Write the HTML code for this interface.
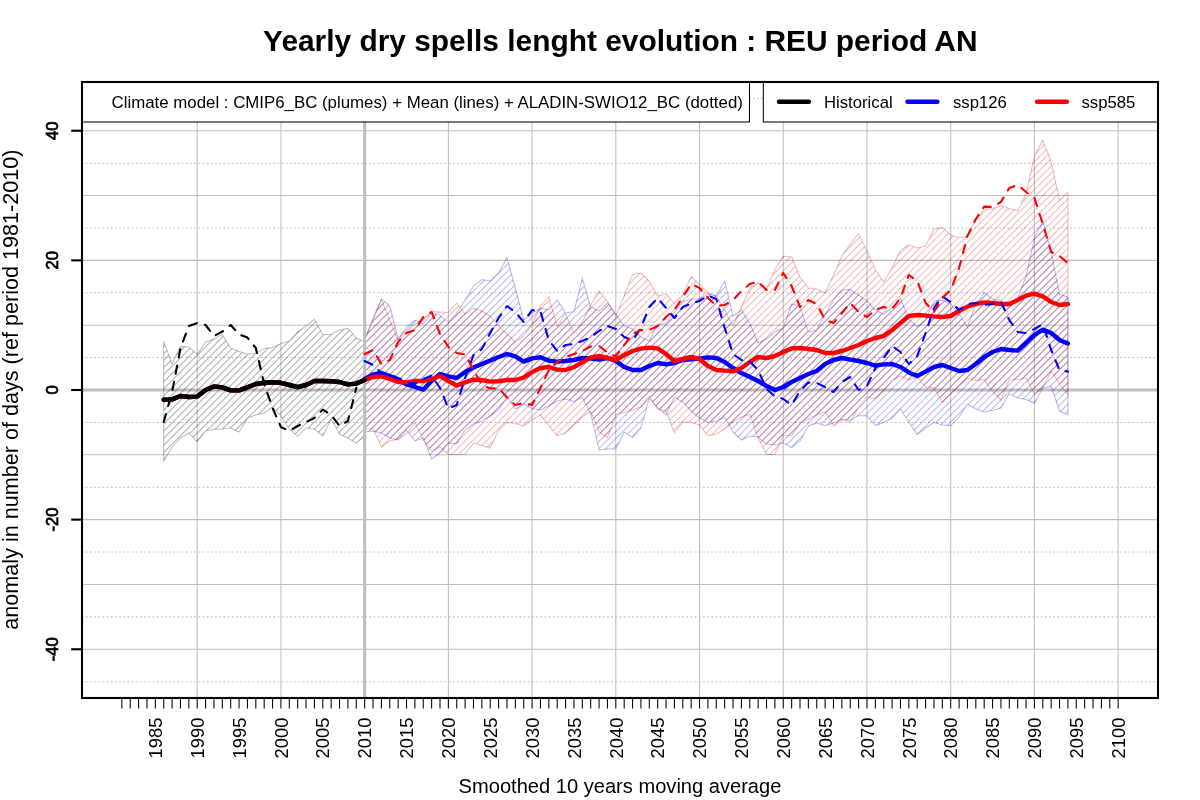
<!DOCTYPE html>
<html><head><meta charset="utf-8"><title>Yearly dry spells lenght evolution</title>
<style>html,body{margin:0;padding:0;background:#fff}svg{display:block}text{font-family:"Liberation Sans",Arial,sans-serif;fill:#000}</style></head><body>
<svg width="1200" height="800" viewBox="0 0 1200 800">
<rect width="1200" height="800" fill="#fff"/>
<defs><clipPath id="box"><rect x="82.0" y="82.0" width="1076.0" height="616.0"/></clipPath>
<clipPath id="cg"><polygon points="163.7,341.6 172.1,364.0 180.5,346.4 188.8,347.0 197.2,354.4 205.6,342.0 213.9,339.0 222.3,334.4 230.7,348.0 239.1,351.6 247.4,354.0 255.8,353.6 264.2,348.4 272.6,347.6 280.9,343.6 289.3,341.0 297.7,332.0 306.0,326.0 314.4,319.4 322.8,334.4 331.2,334.4 339.5,330.0 347.9,328.4 356.3,338.0 364.6,342.0 364.6,436.0 356.3,443.0 347.9,438.0 339.5,434.0 331.2,419.0 322.8,436.0 314.4,429.0 306.0,428.0 297.7,436.4 289.3,429.0 280.9,416.0 272.6,407.0 264.2,413.0 255.8,415.0 247.4,418.0 239.1,432.0 230.7,428.0 222.3,429.0 213.9,429.6 205.6,431.0 197.2,441.6 188.8,433.0 180.5,438.0 172.1,447.0 163.7,461.0"/></clipPath>
<clipPath id="cb"><polygon points="364.6,340.0 373.0,320.0 381.4,299.0 389.8,305.6 398.1,339.0 406.5,327.0 414.9,320.0 423.3,324.0 431.6,313.0 440.0,315.6 448.4,322.4 456.7,313.0 465.1,300.0 473.5,286.0 481.9,279.6 490.2,281.0 498.6,273.0 507.0,257.6 515.3,288.0 523.7,320.0 532.1,313.0 540.5,308.0 548.8,310.0 557.2,300.0 565.6,313.0 574.0,311.6 582.3,278.4 590.7,307.0 599.1,311.0 607.4,303.0 615.8,314.0 624.2,326.0 632.6,329.0 640.9,337.0 649.3,341.0 657.7,324.0 666.0,324.0 674.4,312.0 682.8,302.0 691.2,299.0 699.5,299.0 707.9,294.0 716.3,296.0 724.7,281.0 733.0,316.0 741.4,310.0 749.8,323.0 758.1,343.0 766.5,339.0 774.9,332.0 783.3,328.0 791.6,304.0 800.0,306.0 808.4,332.0 816.7,330.0 825.1,314.0 833.5,300.0 841.9,290.0 850.2,289.6 858.6,295.0 867.0,301.0 875.4,310.0 883.7,314.0 892.1,308.0 900.5,298.0 908.8,319.0 917.2,327.0 925.6,320.0 934.0,301.0 942.3,300.0 950.7,304.0 959.1,314.0 967.4,327.0 975.8,304.0 984.2,292.4 992.6,299.0 1000.9,301.0 1009.3,308.0 1017.7,298.0 1026.1,276.0 1034.4,238.0 1042.8,221.0 1051.2,252.0 1059.5,294.0 1067.9,297.0 1067.9,415.0 1059.5,411.0 1051.2,386.4 1042.8,388.0 1034.4,403.0 1026.1,399.6 1017.7,398.0 1009.3,393.6 1000.9,408.0 992.6,410.4 984.2,412.0 975.8,409.0 967.4,404.0 959.1,417.0 950.7,425.6 942.3,425.0 934.0,422.4 925.6,428.0 917.2,434.4 908.8,422.0 900.5,409.0 892.1,418.0 883.7,422.4 875.4,425.6 867.0,416.0 858.6,415.6 850.2,420.0 841.9,419.0 833.5,423.0 825.1,425.6 816.7,423.0 808.4,426.0 800.0,441.0 791.6,447.6 783.3,443.0 774.9,445.0 766.5,444.0 758.1,437.0 749.8,436.0 741.4,440.0 733.0,432.0 724.7,417.6 716.3,421.0 707.9,422.4 699.5,418.0 691.2,411.0 682.8,402.0 674.4,397.4 666.0,415.0 657.7,408.0 649.3,398.0 640.9,428.0 632.6,437.6 624.2,432.0 615.8,449.0 607.4,449.0 599.1,450.0 590.7,414.0 582.3,397.0 574.0,401.6 565.6,399.0 557.2,401.0 548.8,406.0 540.5,410.0 532.1,408.4 523.7,404.0 515.3,409.0 507.0,397.0 498.6,410.0 490.2,416.0 481.9,421.0 473.5,424.0 465.1,430.0 456.7,443.6 448.4,443.0 440.0,453.0 431.6,459.0 423.3,438.0 414.9,441.0 406.5,430.0 398.1,440.0 389.8,438.0 381.4,433.0 373.0,431.0 364.6,432.0"/></clipPath>
<clipPath id="cr"><polygon points="364.6,340.0 373.0,318.0 381.4,299.6 389.8,320.0 398.1,340.0 406.5,332.0 414.9,324.0 423.3,319.0 431.6,311.6 440.0,312.0 448.4,312.4 456.7,303.0 465.1,314.0 473.5,308.4 481.9,311.0 490.2,316.0 498.6,326.0 507.0,334.0 515.3,342.0 523.7,336.0 532.1,324.0 540.5,306.0 548.8,297.0 557.2,326.0 565.6,314.0 574.0,333.0 582.3,322.0 590.7,305.0 599.1,291.0 607.4,301.0 615.8,316.0 624.2,296.0 632.6,274.4 640.9,273.0 649.3,281.0 657.7,296.0 666.0,294.0 674.4,303.0 682.8,295.0 691.2,276.4 699.5,284.0 707.9,293.0 716.3,296.0 724.7,310.0 733.0,326.0 741.4,307.0 749.8,288.0 758.1,283.0 766.5,289.0 774.9,270.0 783.3,256.0 791.6,257.0 800.0,277.0 808.4,288.0 816.7,289.0 825.1,293.0 833.5,275.0 841.9,256.0 850.2,244.0 858.6,233.6 867.0,251.0 875.4,270.0 883.7,282.0 892.1,268.0 900.5,250.0 908.8,245.0 917.2,248.0 925.6,246.0 934.0,229.0 942.3,227.6 950.7,235.0 959.1,238.0 967.4,236.0 975.8,220.0 984.2,209.0 992.6,209.0 1000.9,205.6 1009.3,208.4 1017.7,211.0 1026.1,194.0 1034.4,156.0 1042.8,140.0 1051.2,162.0 1059.5,200.0 1067.9,192.4 1067.9,395.0 1059.5,384.0 1051.2,371.0 1042.8,388.0 1034.4,394.0 1026.1,378.0 1017.7,379.6 1009.3,380.0 1000.9,400.0 992.6,392.0 984.2,379.6 975.8,380.4 967.4,378.0 959.1,386.0 950.7,394.0 942.3,402.4 934.0,388.0 925.6,387.0 917.2,377.0 908.8,380.0 900.5,376.0 892.1,380.0 883.7,391.0 875.4,399.0 867.0,397.0 858.6,407.0 850.2,422.0 841.9,420.0 833.5,426.0 825.1,411.6 816.7,415.0 808.4,419.0 800.0,423.0 791.6,436.0 783.3,435.0 774.9,454.4 766.5,454.4 758.1,438.0 749.8,414.4 741.4,417.0 733.0,422.0 724.7,429.0 716.3,434.0 707.9,436.0 699.5,425.0 691.2,422.4 682.8,422.0 674.4,433.0 666.0,411.0 657.7,409.0 649.3,395.6 640.9,407.0 632.6,410.0 624.2,412.4 615.8,414.4 607.4,438.0 599.1,432.0 590.7,411.0 582.3,417.0 574.0,425.0 565.6,433.0 557.2,435.6 548.8,425.6 540.5,415.0 532.1,420.0 523.7,426.0 515.3,423.6 507.0,422.4 498.6,430.0 490.2,448.0 481.9,445.6 473.5,443.0 465.1,454.0 456.7,454.4 448.4,454.4 440.0,447.0 431.6,451.0 423.3,440.0 414.9,422.4 406.5,434.0 398.1,439.0 389.8,441.0 381.4,447.0 373.0,429.0 364.6,429.0"/></clipPath></defs>
<g clip-path="url(#box)">
<g stroke="#bebebe" stroke-width="1.05" fill="none">
<line x1="82.0" x2="1158.0" y1="649.26" y2="649.26"/>
<line x1="82.0" x2="1158.0" y1="584.44" y2="584.44"/>
<line x1="82.0" x2="1158.0" y1="519.63" y2="519.63"/>
<line x1="82.0" x2="1158.0" y1="454.81" y2="454.81"/>
<line x1="82.0" x2="1158.0" y1="325.19" y2="325.19"/>
<line x1="82.0" x2="1158.0" y1="260.37" y2="260.37"/>
<line x1="82.0" x2="1158.0" y1="195.56" y2="195.56"/>
<line x1="82.0" x2="1158.0" y1="130.74" y2="130.74"/>
<line x1="197.20" x2="197.20" y1="82.0" y2="698.0"/>
<line x1="280.92" x2="280.92" y1="82.0" y2="698.0"/>
<line x1="448.37" x2="448.37" y1="82.0" y2="698.0"/>
<line x1="532.09" x2="532.09" y1="82.0" y2="698.0"/>
<line x1="615.81" x2="615.81" y1="82.0" y2="698.0"/>
<line x1="699.54" x2="699.54" y1="82.0" y2="698.0"/>
<line x1="783.26" x2="783.26" y1="82.0" y2="698.0"/>
<line x1="866.98" x2="866.98" y1="82.0" y2="698.0"/>
<line x1="950.70" x2="950.70" y1="82.0" y2="698.0"/>
<line x1="1034.43" x2="1034.43" y1="82.0" y2="698.0"/>
<line x1="1118.15" x2="1118.15" y1="82.0" y2="698.0"/>
</g>
<g stroke="#bebebe" stroke-width="1.05" stroke-dasharray="1.04 3.13" stroke-linecap="round" fill="none">
<line x1="82.0" x2="1158.0" y1="681.67" y2="681.67"/>
<line x1="82.0" x2="1158.0" y1="616.85" y2="616.85"/>
<line x1="82.0" x2="1158.0" y1="552.04" y2="552.04"/>
<line x1="82.0" x2="1158.0" y1="487.22" y2="487.22"/>
<line x1="82.0" x2="1158.0" y1="422.41" y2="422.41"/>
<line x1="82.0" x2="1158.0" y1="357.59" y2="357.59"/>
<line x1="82.0" x2="1158.0" y1="292.78" y2="292.78"/>
<line x1="82.0" x2="1158.0" y1="227.96" y2="227.96"/>
<line x1="82.0" x2="1158.0" y1="163.15" y2="163.15"/>
<line x1="82.0" x2="1158.0" y1="98.33" y2="98.33"/>
</g>
<line x1="82.0" x2="1158.0" y1="390.00" y2="390.00" stroke="#bebebe" stroke-width="3.1"/>
<g fill="none" stroke-width="1.05">
<path d="M-203.27,480L156.73,120M-196.20,480L163.80,120M-189.13,480L170.87,120M-182.06,480L177.94,120M-174.99,480L185.01,120M-167.92,480L192.08,120M-160.85,480L199.15,120M-153.78,480L206.22,120M-146.70,480L213.30,120M-139.63,480L220.37,120M-132.56,480L227.44,120M-125.49,480L234.51,120M-118.42,480L241.58,120M-111.35,480L248.65,120M-104.28,480L255.72,120M-97.21,480L262.79,120M-90.14,480L269.86,120M-83.06,480L276.94,120M-75.99,480L284.01,120M-68.92,480L291.08,120M-61.85,480L298.15,120M-54.78,480L305.22,120M-47.71,480L312.29,120M-40.64,480L319.36,120M-33.57,480L326.43,120M-26.50,480L333.50,120M-19.43,480L340.57,120M-12.35,480L347.65,120M-5.28,480L354.72,120M1.79,480L361.79,120M8.86,480L368.86,120M15.93,480L375.93,120M23.00,480L383.00,120M30.07,480L390.07,120M37.14,480L397.14,120M44.21,480L404.21,120M51.29,480L411.29,120M58.36,480L418.36,120M65.43,480L425.43,120M72.50,480L432.50,120M79.57,480L439.57,120M86.64,480L446.64,120M93.71,480L453.71,120M100.78,480L460.78,120M107.85,480L467.85,120M114.92,480L474.92,120M122.00,480L482.00,120M129.07,480L489.07,120M136.14,480L496.14,120M143.21,480L503.21,120M150.28,480L510.28,120M157.35,480L517.35,120M164.42,480L524.42,120M171.49,480L531.49,120M178.56,480L538.56,120M185.64,480L545.64,120M192.71,480L552.71,120M199.78,480L559.78,120M206.85,480L566.85,120M213.92,480L573.92,120M220.99,480L580.99,120M228.06,480L588.06,120M235.13,480L595.13,120M242.20,480L602.20,120M249.28,480L609.28,120M256.35,480L616.35,120M263.42,480L623.42,120M270.49,480L630.49,120M277.56,480L637.56,120M284.63,480L644.63,120M291.70,480L651.70,120M298.77,480L658.77,120M305.84,480L665.84,120M312.91,480L672.91,120M319.99,480L679.99,120M327.06,480L687.06,120M334.13,480L694.13,120M341.20,480L701.20,120M348.27,480L708.27,120M355.34,480L715.34,120M362.41,480L722.41,120M369.48,480L729.48,120M376.55,480L736.55,120M383.63,480L743.63,120M390.70,480L750.70,120M397.77,480L757.77,120M404.84,480L764.84,120M411.91,480L771.91,120M418.98,480L778.98,120M426.05,480L786.05,120M433.12,480L793.12,120M440.19,480L800.19,120M447.27,480L807.27,120M454.34,480L814.34,120M461.41,480L821.41,120M468.48,480L828.48,120M475.55,480L835.55,120M482.62,480L842.62,120M489.69,480L849.69,120M496.76,480L856.76,120M503.83,480L863.83,120M510.90,480L870.90,120M517.98,480L877.98,120M525.05,480L885.05,120M532.12,480L892.12,120M539.19,480L899.19,120M546.26,480L906.26,120M553.33,480L913.33,120M560.40,480L920.40,120M567.47,480L927.47,120M574.54,480L934.54,120M581.62,480L941.62,120M588.69,480L948.69,120M595.76,480L955.76,120M602.83,480L962.83,120M609.90,480L969.90,120M616.97,480L976.97,120M624.04,480L984.04,120M631.11,480L991.11,120M638.18,480L998.18,120M645.26,480L1005.26,120M652.33,480L1012.33,120M659.40,480L1019.40,120M666.47,480L1026.47,120M673.54,480L1033.54,120M680.61,480L1040.61,120M687.68,480L1047.68,120M694.75,480L1054.75,120M701.82,480L1061.82,120M708.89,480L1068.89,120M715.97,480L1075.97,120M723.04,480L1083.04,120M730.11,480L1090.11,120M737.18,480L1097.18,120M744.25,480L1104.25,120M751.32,480L1111.32,120M758.39,480L1118.39,120M765.46,480L1125.46,120M772.53,480L1132.53,120M779.61,480L1139.61,120M786.68,480L1146.68,120M793.75,480L1153.75,120M800.82,480L1160.82,120M807.89,480L1167.89,120M814.96,480L1174.96,120M822.03,480L1182.03,120M829.10,480L1189.10,120M836.17,480L1196.17,120M843.24,480L1203.24,120M850.32,480L1210.32,120M857.39,480L1217.39,120M864.46,480L1224.46,120M871.53,480L1231.53,120M878.60,480L1238.60,120M885.67,480L1245.67,120M892.74,480L1252.74,120M899.81,480L1259.81,120M906.88,480L1266.88,120M913.96,480L1273.96,120M921.03,480L1281.03,120M928.10,480L1288.10,120M935.17,480L1295.17,120M942.24,480L1302.24,120M949.31,480L1309.31,120M956.38,480L1316.38,120M963.45,480L1323.45,120M970.52,480L1330.52,120M977.60,480L1337.60,120M984.67,480L1344.67,120M991.74,480L1351.74,120M998.81,480L1358.81,120M1005.88,480L1365.88,120M1012.95,480L1372.95,120M1020.02,480L1380.02,120M1027.09,480L1387.09,120M1034.16,480L1394.16,120M1041.23,480L1401.23,120M1048.31,480L1408.31,120M1055.38,480L1415.38,120M1062.45,480L1422.45,120M1069.52,480L1429.52,120M1076.59,480L1436.59,120" stroke="#000" stroke-opacity="0.31" clip-path="url(#cg)"/>
<polygon points="163.7,341.6 172.1,364.0 180.5,346.4 188.8,347.0 197.2,354.4 205.6,342.0 213.9,339.0 222.3,334.4 230.7,348.0 239.1,351.6 247.4,354.0 255.8,353.6 264.2,348.4 272.6,347.6 280.9,343.6 289.3,341.0 297.7,332.0 306.0,326.0 314.4,319.4 322.8,334.4 331.2,334.4 339.5,330.0 347.9,328.4 356.3,338.0 364.6,342.0 364.6,436.0 356.3,443.0 347.9,438.0 339.5,434.0 331.2,419.0 322.8,436.0 314.4,429.0 306.0,428.0 297.7,436.4 289.3,429.0 280.9,416.0 272.6,407.0 264.2,413.0 255.8,415.0 247.4,418.0 239.1,432.0 230.7,428.0 222.3,429.0 213.9,429.6 205.6,431.0 197.2,441.6 188.8,433.0 180.5,438.0 172.1,447.0 163.7,461.0" stroke="#000" stroke-opacity="0.25"/>
<path d="M-203.27,480L156.73,120M-196.20,480L163.80,120M-189.13,480L170.87,120M-182.06,480L177.94,120M-174.99,480L185.01,120M-167.92,480L192.08,120M-160.85,480L199.15,120M-153.78,480L206.22,120M-146.70,480L213.30,120M-139.63,480L220.37,120M-132.56,480L227.44,120M-125.49,480L234.51,120M-118.42,480L241.58,120M-111.35,480L248.65,120M-104.28,480L255.72,120M-97.21,480L262.79,120M-90.14,480L269.86,120M-83.06,480L276.94,120M-75.99,480L284.01,120M-68.92,480L291.08,120M-61.85,480L298.15,120M-54.78,480L305.22,120M-47.71,480L312.29,120M-40.64,480L319.36,120M-33.57,480L326.43,120M-26.50,480L333.50,120M-19.43,480L340.57,120M-12.35,480L347.65,120M-5.28,480L354.72,120M1.79,480L361.79,120M8.86,480L368.86,120M15.93,480L375.93,120M23.00,480L383.00,120M30.07,480L390.07,120M37.14,480L397.14,120M44.21,480L404.21,120M51.29,480L411.29,120M58.36,480L418.36,120M65.43,480L425.43,120M72.50,480L432.50,120M79.57,480L439.57,120M86.64,480L446.64,120M93.71,480L453.71,120M100.78,480L460.78,120M107.85,480L467.85,120M114.92,480L474.92,120M122.00,480L482.00,120M129.07,480L489.07,120M136.14,480L496.14,120M143.21,480L503.21,120M150.28,480L510.28,120M157.35,480L517.35,120M164.42,480L524.42,120M171.49,480L531.49,120M178.56,480L538.56,120M185.64,480L545.64,120M192.71,480L552.71,120M199.78,480L559.78,120M206.85,480L566.85,120M213.92,480L573.92,120M220.99,480L580.99,120M228.06,480L588.06,120M235.13,480L595.13,120M242.20,480L602.20,120M249.28,480L609.28,120M256.35,480L616.35,120M263.42,480L623.42,120M270.49,480L630.49,120M277.56,480L637.56,120M284.63,480L644.63,120M291.70,480L651.70,120M298.77,480L658.77,120M305.84,480L665.84,120M312.91,480L672.91,120M319.99,480L679.99,120M327.06,480L687.06,120M334.13,480L694.13,120M341.20,480L701.20,120M348.27,480L708.27,120M355.34,480L715.34,120M362.41,480L722.41,120M369.48,480L729.48,120M376.55,480L736.55,120M383.63,480L743.63,120M390.70,480L750.70,120M397.77,480L757.77,120M404.84,480L764.84,120M411.91,480L771.91,120M418.98,480L778.98,120M426.05,480L786.05,120M433.12,480L793.12,120M440.19,480L800.19,120M447.27,480L807.27,120M454.34,480L814.34,120M461.41,480L821.41,120M468.48,480L828.48,120M475.55,480L835.55,120M482.62,480L842.62,120M489.69,480L849.69,120M496.76,480L856.76,120M503.83,480L863.83,120M510.90,480L870.90,120M517.98,480L877.98,120M525.05,480L885.05,120M532.12,480L892.12,120M539.19,480L899.19,120M546.26,480L906.26,120M553.33,480L913.33,120M560.40,480L920.40,120M567.47,480L927.47,120M574.54,480L934.54,120M581.62,480L941.62,120M588.69,480L948.69,120M595.76,480L955.76,120M602.83,480L962.83,120M609.90,480L969.90,120M616.97,480L976.97,120M624.04,480L984.04,120M631.11,480L991.11,120M638.18,480L998.18,120M645.26,480L1005.26,120M652.33,480L1012.33,120M659.40,480L1019.40,120M666.47,480L1026.47,120M673.54,480L1033.54,120M680.61,480L1040.61,120M687.68,480L1047.68,120M694.75,480L1054.75,120M701.82,480L1061.82,120M708.89,480L1068.89,120M715.97,480L1075.97,120M723.04,480L1083.04,120M730.11,480L1090.11,120M737.18,480L1097.18,120M744.25,480L1104.25,120M751.32,480L1111.32,120M758.39,480L1118.39,120M765.46,480L1125.46,120M772.53,480L1132.53,120M779.61,480L1139.61,120M786.68,480L1146.68,120M793.75,480L1153.75,120M800.82,480L1160.82,120M807.89,480L1167.89,120M814.96,480L1174.96,120M822.03,480L1182.03,120M829.10,480L1189.10,120M836.17,480L1196.17,120M843.24,480L1203.24,120M850.32,480L1210.32,120M857.39,480L1217.39,120M864.46,480L1224.46,120M871.53,480L1231.53,120M878.60,480L1238.60,120M885.67,480L1245.67,120M892.74,480L1252.74,120M899.81,480L1259.81,120M906.88,480L1266.88,120M913.96,480L1273.96,120M921.03,480L1281.03,120M928.10,480L1288.10,120M935.17,480L1295.17,120M942.24,480L1302.24,120M949.31,480L1309.31,120M956.38,480L1316.38,120M963.45,480L1323.45,120M970.52,480L1330.52,120M977.60,480L1337.60,120M984.67,480L1344.67,120M991.74,480L1351.74,120M998.81,480L1358.81,120M1005.88,480L1365.88,120M1012.95,480L1372.95,120M1020.02,480L1380.02,120M1027.09,480L1387.09,120M1034.16,480L1394.16,120M1041.23,480L1401.23,120M1048.31,480L1408.31,120M1055.38,480L1415.38,120M1062.45,480L1422.45,120M1069.52,480L1429.52,120M1076.59,480L1436.59,120" stroke="#0000cd" stroke-opacity="0.28" clip-path="url(#cb)"/>
<polygon points="364.6,340.0 373.0,320.0 381.4,299.0 389.8,305.6 398.1,339.0 406.5,327.0 414.9,320.0 423.3,324.0 431.6,313.0 440.0,315.6 448.4,322.4 456.7,313.0 465.1,300.0 473.5,286.0 481.9,279.6 490.2,281.0 498.6,273.0 507.0,257.6 515.3,288.0 523.7,320.0 532.1,313.0 540.5,308.0 548.8,310.0 557.2,300.0 565.6,313.0 574.0,311.6 582.3,278.4 590.7,307.0 599.1,311.0 607.4,303.0 615.8,314.0 624.2,326.0 632.6,329.0 640.9,337.0 649.3,341.0 657.7,324.0 666.0,324.0 674.4,312.0 682.8,302.0 691.2,299.0 699.5,299.0 707.9,294.0 716.3,296.0 724.7,281.0 733.0,316.0 741.4,310.0 749.8,323.0 758.1,343.0 766.5,339.0 774.9,332.0 783.3,328.0 791.6,304.0 800.0,306.0 808.4,332.0 816.7,330.0 825.1,314.0 833.5,300.0 841.9,290.0 850.2,289.6 858.6,295.0 867.0,301.0 875.4,310.0 883.7,314.0 892.1,308.0 900.5,298.0 908.8,319.0 917.2,327.0 925.6,320.0 934.0,301.0 942.3,300.0 950.7,304.0 959.1,314.0 967.4,327.0 975.8,304.0 984.2,292.4 992.6,299.0 1000.9,301.0 1009.3,308.0 1017.7,298.0 1026.1,276.0 1034.4,238.0 1042.8,221.0 1051.2,252.0 1059.5,294.0 1067.9,297.0 1067.9,415.0 1059.5,411.0 1051.2,386.4 1042.8,388.0 1034.4,403.0 1026.1,399.6 1017.7,398.0 1009.3,393.6 1000.9,408.0 992.6,410.4 984.2,412.0 975.8,409.0 967.4,404.0 959.1,417.0 950.7,425.6 942.3,425.0 934.0,422.4 925.6,428.0 917.2,434.4 908.8,422.0 900.5,409.0 892.1,418.0 883.7,422.4 875.4,425.6 867.0,416.0 858.6,415.6 850.2,420.0 841.9,419.0 833.5,423.0 825.1,425.6 816.7,423.0 808.4,426.0 800.0,441.0 791.6,447.6 783.3,443.0 774.9,445.0 766.5,444.0 758.1,437.0 749.8,436.0 741.4,440.0 733.0,432.0 724.7,417.6 716.3,421.0 707.9,422.4 699.5,418.0 691.2,411.0 682.8,402.0 674.4,397.4 666.0,415.0 657.7,408.0 649.3,398.0 640.9,428.0 632.6,437.6 624.2,432.0 615.8,449.0 607.4,449.0 599.1,450.0 590.7,414.0 582.3,397.0 574.0,401.6 565.6,399.0 557.2,401.0 548.8,406.0 540.5,410.0 532.1,408.4 523.7,404.0 515.3,409.0 507.0,397.0 498.6,410.0 490.2,416.0 481.9,421.0 473.5,424.0 465.1,430.0 456.7,443.6 448.4,443.0 440.0,453.0 431.6,459.0 423.3,438.0 414.9,441.0 406.5,430.0 398.1,440.0 389.8,438.0 381.4,433.0 373.0,431.0 364.6,432.0" stroke="#0000cd" stroke-opacity="0.28"/>
<path d="M-203.27,480L156.73,120M-196.20,480L163.80,120M-189.13,480L170.87,120M-182.06,480L177.94,120M-174.99,480L185.01,120M-167.92,480L192.08,120M-160.85,480L199.15,120M-153.78,480L206.22,120M-146.70,480L213.30,120M-139.63,480L220.37,120M-132.56,480L227.44,120M-125.49,480L234.51,120M-118.42,480L241.58,120M-111.35,480L248.65,120M-104.28,480L255.72,120M-97.21,480L262.79,120M-90.14,480L269.86,120M-83.06,480L276.94,120M-75.99,480L284.01,120M-68.92,480L291.08,120M-61.85,480L298.15,120M-54.78,480L305.22,120M-47.71,480L312.29,120M-40.64,480L319.36,120M-33.57,480L326.43,120M-26.50,480L333.50,120M-19.43,480L340.57,120M-12.35,480L347.65,120M-5.28,480L354.72,120M1.79,480L361.79,120M8.86,480L368.86,120M15.93,480L375.93,120M23.00,480L383.00,120M30.07,480L390.07,120M37.14,480L397.14,120M44.21,480L404.21,120M51.29,480L411.29,120M58.36,480L418.36,120M65.43,480L425.43,120M72.50,480L432.50,120M79.57,480L439.57,120M86.64,480L446.64,120M93.71,480L453.71,120M100.78,480L460.78,120M107.85,480L467.85,120M114.92,480L474.92,120M122.00,480L482.00,120M129.07,480L489.07,120M136.14,480L496.14,120M143.21,480L503.21,120M150.28,480L510.28,120M157.35,480L517.35,120M164.42,480L524.42,120M171.49,480L531.49,120M178.56,480L538.56,120M185.64,480L545.64,120M192.71,480L552.71,120M199.78,480L559.78,120M206.85,480L566.85,120M213.92,480L573.92,120M220.99,480L580.99,120M228.06,480L588.06,120M235.13,480L595.13,120M242.20,480L602.20,120M249.28,480L609.28,120M256.35,480L616.35,120M263.42,480L623.42,120M270.49,480L630.49,120M277.56,480L637.56,120M284.63,480L644.63,120M291.70,480L651.70,120M298.77,480L658.77,120M305.84,480L665.84,120M312.91,480L672.91,120M319.99,480L679.99,120M327.06,480L687.06,120M334.13,480L694.13,120M341.20,480L701.20,120M348.27,480L708.27,120M355.34,480L715.34,120M362.41,480L722.41,120M369.48,480L729.48,120M376.55,480L736.55,120M383.63,480L743.63,120M390.70,480L750.70,120M397.77,480L757.77,120M404.84,480L764.84,120M411.91,480L771.91,120M418.98,480L778.98,120M426.05,480L786.05,120M433.12,480L793.12,120M440.19,480L800.19,120M447.27,480L807.27,120M454.34,480L814.34,120M461.41,480L821.41,120M468.48,480L828.48,120M475.55,480L835.55,120M482.62,480L842.62,120M489.69,480L849.69,120M496.76,480L856.76,120M503.83,480L863.83,120M510.90,480L870.90,120M517.98,480L877.98,120M525.05,480L885.05,120M532.12,480L892.12,120M539.19,480L899.19,120M546.26,480L906.26,120M553.33,480L913.33,120M560.40,480L920.40,120M567.47,480L927.47,120M574.54,480L934.54,120M581.62,480L941.62,120M588.69,480L948.69,120M595.76,480L955.76,120M602.83,480L962.83,120M609.90,480L969.90,120M616.97,480L976.97,120M624.04,480L984.04,120M631.11,480L991.11,120M638.18,480L998.18,120M645.26,480L1005.26,120M652.33,480L1012.33,120M659.40,480L1019.40,120M666.47,480L1026.47,120M673.54,480L1033.54,120M680.61,480L1040.61,120M687.68,480L1047.68,120M694.75,480L1054.75,120M701.82,480L1061.82,120M708.89,480L1068.89,120M715.97,480L1075.97,120M723.04,480L1083.04,120M730.11,480L1090.11,120M737.18,480L1097.18,120M744.25,480L1104.25,120M751.32,480L1111.32,120M758.39,480L1118.39,120M765.46,480L1125.46,120M772.53,480L1132.53,120M779.61,480L1139.61,120M786.68,480L1146.68,120M793.75,480L1153.75,120M800.82,480L1160.82,120M807.89,480L1167.89,120M814.96,480L1174.96,120M822.03,480L1182.03,120M829.10,480L1189.10,120M836.17,480L1196.17,120M843.24,480L1203.24,120M850.32,480L1210.32,120M857.39,480L1217.39,120M864.46,480L1224.46,120M871.53,480L1231.53,120M878.60,480L1238.60,120M885.67,480L1245.67,120M892.74,480L1252.74,120M899.81,480L1259.81,120M906.88,480L1266.88,120M913.96,480L1273.96,120M921.03,480L1281.03,120M928.10,480L1288.10,120M935.17,480L1295.17,120M942.24,480L1302.24,120M949.31,480L1309.31,120M956.38,480L1316.38,120M963.45,480L1323.45,120M970.52,480L1330.52,120M977.60,480L1337.60,120M984.67,480L1344.67,120M991.74,480L1351.74,120M998.81,480L1358.81,120M1005.88,480L1365.88,120M1012.95,480L1372.95,120M1020.02,480L1380.02,120M1027.09,480L1387.09,120M1034.16,480L1394.16,120M1041.23,480L1401.23,120M1048.31,480L1408.31,120M1055.38,480L1415.38,120M1062.45,480L1422.45,120M1069.52,480L1429.52,120M1076.59,480L1436.59,120" stroke="#cd0000" stroke-opacity="0.28" clip-path="url(#cr)"/>
<polygon points="364.6,340.0 373.0,318.0 381.4,299.6 389.8,320.0 398.1,340.0 406.5,332.0 414.9,324.0 423.3,319.0 431.6,311.6 440.0,312.0 448.4,312.4 456.7,303.0 465.1,314.0 473.5,308.4 481.9,311.0 490.2,316.0 498.6,326.0 507.0,334.0 515.3,342.0 523.7,336.0 532.1,324.0 540.5,306.0 548.8,297.0 557.2,326.0 565.6,314.0 574.0,333.0 582.3,322.0 590.7,305.0 599.1,291.0 607.4,301.0 615.8,316.0 624.2,296.0 632.6,274.4 640.9,273.0 649.3,281.0 657.7,296.0 666.0,294.0 674.4,303.0 682.8,295.0 691.2,276.4 699.5,284.0 707.9,293.0 716.3,296.0 724.7,310.0 733.0,326.0 741.4,307.0 749.8,288.0 758.1,283.0 766.5,289.0 774.9,270.0 783.3,256.0 791.6,257.0 800.0,277.0 808.4,288.0 816.7,289.0 825.1,293.0 833.5,275.0 841.9,256.0 850.2,244.0 858.6,233.6 867.0,251.0 875.4,270.0 883.7,282.0 892.1,268.0 900.5,250.0 908.8,245.0 917.2,248.0 925.6,246.0 934.0,229.0 942.3,227.6 950.7,235.0 959.1,238.0 967.4,236.0 975.8,220.0 984.2,209.0 992.6,209.0 1000.9,205.6 1009.3,208.4 1017.7,211.0 1026.1,194.0 1034.4,156.0 1042.8,140.0 1051.2,162.0 1059.5,200.0 1067.9,192.4 1067.9,395.0 1059.5,384.0 1051.2,371.0 1042.8,388.0 1034.4,394.0 1026.1,378.0 1017.7,379.6 1009.3,380.0 1000.9,400.0 992.6,392.0 984.2,379.6 975.8,380.4 967.4,378.0 959.1,386.0 950.7,394.0 942.3,402.4 934.0,388.0 925.6,387.0 917.2,377.0 908.8,380.0 900.5,376.0 892.1,380.0 883.7,391.0 875.4,399.0 867.0,397.0 858.6,407.0 850.2,422.0 841.9,420.0 833.5,426.0 825.1,411.6 816.7,415.0 808.4,419.0 800.0,423.0 791.6,436.0 783.3,435.0 774.9,454.4 766.5,454.4 758.1,438.0 749.8,414.4 741.4,417.0 733.0,422.0 724.7,429.0 716.3,434.0 707.9,436.0 699.5,425.0 691.2,422.4 682.8,422.0 674.4,433.0 666.0,411.0 657.7,409.0 649.3,395.6 640.9,407.0 632.6,410.0 624.2,412.4 615.8,414.4 607.4,438.0 599.1,432.0 590.7,411.0 582.3,417.0 574.0,425.0 565.6,433.0 557.2,435.6 548.8,425.6 540.5,415.0 532.1,420.0 523.7,426.0 515.3,423.6 507.0,422.4 498.6,430.0 490.2,448.0 481.9,445.6 473.5,443.0 465.1,454.0 456.7,454.4 448.4,454.4 440.0,447.0 431.6,451.0 423.3,440.0 414.9,422.4 406.5,434.0 398.1,439.0 389.8,441.0 381.4,447.0 373.0,429.0 364.6,429.0" stroke="#cd0000" stroke-opacity="0.28"/>
</g>
<line x1="364.65" x2="364.65" y1="82.0" y2="698.0" stroke="#bebebe" stroke-width="3"/>
<g fill="none" stroke-linecap="round" stroke-linejoin="round">
<polyline points="364.6,379.0 373.0,374.4 381.4,373.0 389.8,376.0 398.1,380.0 406.5,384.4 414.9,387.0 423.3,389.6 431.6,381.0 440.0,374.0 448.4,376.4 456.7,378.0 465.1,372.0 473.5,367.6 481.9,364.0 490.2,360.6 498.6,357.0 507.0,354.0 515.3,356.4 523.7,361.6 532.1,358.4 540.5,357.2 548.8,360.6 557.2,361.6 565.6,361.0 574.0,360.0 582.3,358.0 590.7,358.5 599.1,359.6 607.4,358.0 615.8,361.0 624.2,367.0 632.6,370.0 640.9,370.0 649.3,366.0 657.7,363.0 666.0,364.4 674.4,363.0 682.8,360.0 691.2,359.4 699.5,358.6 707.9,357.4 716.3,358.0 724.7,362.0 733.0,368.0 741.4,373.0 749.8,377.0 758.1,381.0 766.5,386.0 774.9,390.0 783.3,387.0 791.6,382.0 800.0,378.0 808.4,374.0 816.7,371.0 825.1,364.0 833.5,360.0 841.9,358.0 850.2,359.6 858.6,361.0 867.0,363.0 875.4,365.6 883.7,364.4 892.1,364.0 900.5,367.0 908.8,372.4 917.2,376.0 925.6,371.6 934.0,367.0 942.3,365.0 950.7,368.0 959.1,371.0 967.4,370.0 975.8,364.0 984.2,357.0 992.6,352.0 1000.9,349.0 1009.3,350.0 1017.7,350.6 1026.1,343.0 1034.4,335.0 1042.8,329.6 1051.2,333.0 1059.5,340.0 1067.9,343.6" stroke="#00f" stroke-width="4.4"/>
<polyline points="364.6,380.0 373.0,377.0 381.4,376.4 389.8,379.0 398.1,382.0 406.5,382.4 414.9,381.0 423.3,381.0 431.6,379.0 440.0,376.0 448.4,381.0 456.7,385.6 465.1,382.4 473.5,379.6 481.9,380.0 490.2,381.6 498.6,381.2 507.0,380.0 515.3,380.0 523.7,377.6 532.1,372.0 540.5,368.0 548.8,367.0 557.2,369.6 565.6,370.0 574.0,367.0 582.3,362.4 590.7,357.5 599.1,356.0 607.4,358.0 615.8,360.0 624.2,355.0 632.6,351.0 640.9,348.6 649.3,347.6 657.7,348.4 666.0,354.0 674.4,361.0 682.8,359.0 691.2,357.0 699.5,359.0 707.9,366.0 716.3,370.0 724.7,370.6 733.0,371.4 741.4,368.0 749.8,362.0 758.1,357.0 766.5,358.0 774.9,356.0 783.3,352.0 791.6,348.4 800.0,348.0 808.4,349.0 816.7,350.0 825.1,353.0 833.5,353.0 841.9,351.0 850.2,348.0 858.6,345.0 867.0,341.0 875.4,338.0 883.7,336.0 892.1,330.0 900.5,323.0 908.8,316.0 917.2,315.0 925.6,315.6 934.0,316.4 942.3,317.0 950.7,316.0 959.1,311.0 967.4,306.6 975.8,304.0 984.2,302.4 992.6,303.0 1000.9,304.0 1009.3,304.0 1017.7,300.0 1026.1,295.6 1034.4,293.6 1042.8,296.4 1051.2,302.0 1059.5,305.0 1067.9,304.0" stroke="#f00" stroke-width="4.4"/>
<polyline points="163.7,399.6 172.1,399.4 180.5,396.0 188.8,397.0 197.2,396.6 205.6,390.0 213.9,386.4 222.3,387.4 230.7,390.4 239.1,390.4 247.4,387.4 255.8,384.0 264.2,382.8 272.6,382.2 280.9,382.8 289.3,385.0 297.7,387.2 306.0,385.0 314.4,381.0 322.8,381.0 331.2,381.2 339.5,382.0 347.9,384.4 356.3,383.6 364.6,380.0" stroke="#00f" stroke-width="4.4"/>
<polyline points="163.7,399.6 172.1,399.4 180.5,396.0 188.8,397.0 197.2,396.6 205.6,390.0 213.9,386.4 222.3,387.4 230.7,390.4 239.1,390.4 247.4,387.4 255.8,384.0 264.2,382.8 272.6,382.2 280.9,382.8 289.3,385.0 297.7,387.2 306.0,385.0 314.4,381.0 322.8,381.0 331.2,381.2 339.5,382.0 347.9,384.4 356.3,383.6 364.6,380.0" stroke="#f00" stroke-width="4.4"/>
<polyline points="163.7,399.6 172.1,399.4 180.5,396.0 188.8,397.0 197.2,396.6 205.6,390.0 213.9,386.4 222.3,387.4 230.7,390.4 239.1,390.4 247.4,387.4 255.8,384.0 264.2,382.8 272.6,382.2 280.9,382.8 289.3,385.0 297.7,387.2 306.0,385.0 314.4,381.0 322.8,381.0 331.2,381.2 339.5,382.0 347.9,384.4 356.3,383.6 364.6,380.0" stroke="#000" stroke-width="4.4"/>
<polyline points="163.7,422.0 172.1,392.0 180.5,348.0 188.8,326.0 197.2,323.0 205.6,325.0 213.9,336.0 222.3,331.6 230.7,325.0 239.1,334.4 247.4,337.6 255.8,348.0 264.2,384.0 272.6,408.0 280.9,427.0 289.3,431.0 297.7,426.0 306.0,422.0 314.4,418.0 322.8,409.6 331.2,415.0 339.5,426.0 347.9,421.0 356.3,388.0" stroke="#000" stroke-width="2.1" stroke-dasharray="8.3 8.3"/>
<polyline points="364.6,361.0 373.0,365.0 381.4,373.0 389.8,374.4 398.1,378.0 406.5,382.0 414.9,384.0 423.3,379.0 431.6,375.5 440.0,388.0 448.4,408.4 456.7,405.0 465.1,378.0 473.5,355.0 481.9,349.0 490.2,333.0 498.6,318.0 507.0,306.0 515.3,312.0 523.7,322.0 532.1,310.0 540.5,311.6 548.8,340.0 557.2,351.0 565.6,345.0 574.0,344.0 582.3,341.0 590.7,337.0 599.1,331.0 607.4,326.0 615.8,329.0 624.2,337.0 632.6,340.4 640.9,328.0 649.3,307.0 657.7,298.0 666.0,308.0 674.4,318.0 682.8,307.0 691.2,303.6 699.5,301.0 707.9,295.6 716.3,299.0 724.7,328.0 733.0,354.0 741.4,360.0 749.8,361.6 758.1,370.0 766.5,389.0 774.9,396.4 783.3,399.0 791.6,405.0 800.0,391.0 808.4,382.6 816.7,383.0 825.1,387.0 833.5,392.0 841.9,382.0 850.2,377.0 858.6,390.0 867.0,386.0 875.4,368.0 883.7,358.0 892.1,346.0 900.5,352.0 908.8,364.0 917.2,356.0 925.6,333.0 934.0,308.0 942.3,296.4 950.7,302.0 959.1,310.0 967.4,304.0 975.8,303.0 984.2,305.0 992.6,304.0 1000.9,301.6 1009.3,320.0 1017.7,332.0 1026.1,333.0 1034.4,329.0 1042.8,324.0 1051.2,350.0 1059.5,370.0 1067.9,371.6" stroke="#00f" stroke-width="2.1" stroke-dasharray="8.3 8.3"/>
<polyline points="364.6,354.0 373.0,350.0 381.4,364.0 389.8,360.0 398.1,342.0 406.5,333.0 414.9,330.0 423.3,317.0 431.6,312.0 440.0,334.0 448.4,347.0 456.7,353.0 465.1,354.4 473.5,370.0 481.9,385.0 490.2,388.4 498.6,388.0 507.0,397.5 515.3,405.0 523.7,403.0 532.1,405.0 540.5,388.0 548.8,370.0 557.2,362.0 565.6,357.0 574.0,354.0 582.3,351.0 590.7,346.5 599.1,346.0 607.4,352.4 615.8,356.4 624.2,345.0 632.6,334.0 640.9,330.0 649.3,330.0 657.7,326.0 666.0,317.0 674.4,310.0 682.8,297.0 691.2,284.0 699.5,288.0 707.9,298.0 716.3,305.6 724.7,305.0 733.0,300.0 741.4,291.0 749.8,284.0 758.1,281.6 766.5,290.0 774.9,290.0 783.3,273.0 791.6,286.0 800.0,307.0 808.4,300.0 816.7,304.0 825.1,320.0 833.5,323.0 841.9,313.0 850.2,303.0 858.6,312.0 867.0,317.0 875.4,310.0 883.7,307.0 892.1,309.0 900.5,298.0 908.8,275.0 917.2,281.0 925.6,303.0 934.0,312.0 942.3,298.0 950.7,290.0 959.1,268.0 967.4,236.0 975.8,219.0 984.2,206.6 992.6,207.0 1000.9,202.0 1009.3,188.0 1017.7,185.0 1026.1,192.0 1034.4,198.0 1042.8,224.0 1051.2,252.0 1059.5,256.0 1067.9,263.0" stroke="#f00" stroke-width="2.1" stroke-dasharray="8.3 8.3"/>
</g>
</g>
<rect x="82.0" y="82.0" width="667.5" height="40.0" fill="#fff" stroke="#000" stroke-width="1.05"/>
<rect x="763.3" y="82.0" width="394.70000000000005" height="40.0" fill="#fff" stroke="#000" stroke-width="1.05"/>
<text x="111.6" y="107.8" font-size="16.84">Climate model : CMIP6_BC (plumes) + Mean (lines) + ALADIN-SWIO12_BC (dotted)</text>
<line x1="779" x2="808.9" y1="101.8" y2="101.8" stroke="#000" stroke-width="4.4" stroke-linecap="round"/>
<text x="824" y="107.8" font-size="16.7">Historical</text>
<line x1="907.5" x2="937.4" y1="101.8" y2="101.8" stroke="#00f" stroke-width="4.4" stroke-linecap="round"/>
<text x="953" y="107.8" font-size="16.7">ssp126</text>
<line x1="1037" x2="1066.9" y1="101.8" y2="101.8" stroke="#f00" stroke-width="4.4" stroke-linecap="round"/>
<text x="1081.5" y="107.8" font-size="16.7">ssp585</text>
<rect x="82.0" y="82.0" width="1076.0" height="616.0" fill="none" stroke="#000" stroke-width="2.1"/>
<g stroke="#000" stroke-width="1.05">
<line x1="121.85" x2="121.85" y1="698.0" y2="708.5"/>
<line x1="130.22" x2="130.22" y1="698.0" y2="708.5"/>
<line x1="138.60" x2="138.60" y1="698.0" y2="708.5"/>
<line x1="146.97" x2="146.97" y1="698.0" y2="708.5"/>
<line x1="155.34" x2="155.34" y1="698.0" y2="708.5"/>
<line x1="163.71" x2="163.71" y1="698.0" y2="708.5"/>
<line x1="172.09" x2="172.09" y1="698.0" y2="708.5"/>
<line x1="180.46" x2="180.46" y1="698.0" y2="708.5"/>
<line x1="188.83" x2="188.83" y1="698.0" y2="708.5"/>
<line x1="197.20" x2="197.20" y1="698.0" y2="708.5"/>
<line x1="205.57" x2="205.57" y1="698.0" y2="708.5"/>
<line x1="213.95" x2="213.95" y1="698.0" y2="708.5"/>
<line x1="222.32" x2="222.32" y1="698.0" y2="708.5"/>
<line x1="230.69" x2="230.69" y1="698.0" y2="708.5"/>
<line x1="239.06" x2="239.06" y1="698.0" y2="708.5"/>
<line x1="247.44" x2="247.44" y1="698.0" y2="708.5"/>
<line x1="255.81" x2="255.81" y1="698.0" y2="708.5"/>
<line x1="264.18" x2="264.18" y1="698.0" y2="708.5"/>
<line x1="272.55" x2="272.55" y1="698.0" y2="708.5"/>
<line x1="280.92" x2="280.92" y1="698.0" y2="708.5"/>
<line x1="289.30" x2="289.30" y1="698.0" y2="708.5"/>
<line x1="297.67" x2="297.67" y1="698.0" y2="708.5"/>
<line x1="306.04" x2="306.04" y1="698.0" y2="708.5"/>
<line x1="314.41" x2="314.41" y1="698.0" y2="708.5"/>
<line x1="322.79" x2="322.79" y1="698.0" y2="708.5"/>
<line x1="331.16" x2="331.16" y1="698.0" y2="708.5"/>
<line x1="339.53" x2="339.53" y1="698.0" y2="708.5"/>
<line x1="347.90" x2="347.90" y1="698.0" y2="708.5"/>
<line x1="356.27" x2="356.27" y1="698.0" y2="708.5"/>
<line x1="364.65" x2="364.65" y1="698.0" y2="708.5"/>
<line x1="373.02" x2="373.02" y1="698.0" y2="708.5"/>
<line x1="381.39" x2="381.39" y1="698.0" y2="708.5"/>
<line x1="389.76" x2="389.76" y1="698.0" y2="708.5"/>
<line x1="398.14" x2="398.14" y1="698.0" y2="708.5"/>
<line x1="406.51" x2="406.51" y1="698.0" y2="708.5"/>
<line x1="414.88" x2="414.88" y1="698.0" y2="708.5"/>
<line x1="423.25" x2="423.25" y1="698.0" y2="708.5"/>
<line x1="431.62" x2="431.62" y1="698.0" y2="708.5"/>
<line x1="440.00" x2="440.00" y1="698.0" y2="708.5"/>
<line x1="448.37" x2="448.37" y1="698.0" y2="708.5"/>
<line x1="456.74" x2="456.74" y1="698.0" y2="708.5"/>
<line x1="465.11" x2="465.11" y1="698.0" y2="708.5"/>
<line x1="473.49" x2="473.49" y1="698.0" y2="708.5"/>
<line x1="481.86" x2="481.86" y1="698.0" y2="708.5"/>
<line x1="490.23" x2="490.23" y1="698.0" y2="708.5"/>
<line x1="498.60" x2="498.60" y1="698.0" y2="708.5"/>
<line x1="506.97" x2="506.97" y1="698.0" y2="708.5"/>
<line x1="515.35" x2="515.35" y1="698.0" y2="708.5"/>
<line x1="523.72" x2="523.72" y1="698.0" y2="708.5"/>
<line x1="532.09" x2="532.09" y1="698.0" y2="708.5"/>
<line x1="540.46" x2="540.46" y1="698.0" y2="708.5"/>
<line x1="548.84" x2="548.84" y1="698.0" y2="708.5"/>
<line x1="557.21" x2="557.21" y1="698.0" y2="708.5"/>
<line x1="565.58" x2="565.58" y1="698.0" y2="708.5"/>
<line x1="573.95" x2="573.95" y1="698.0" y2="708.5"/>
<line x1="582.32" x2="582.32" y1="698.0" y2="708.5"/>
<line x1="590.70" x2="590.70" y1="698.0" y2="708.5"/>
<line x1="599.07" x2="599.07" y1="698.0" y2="708.5"/>
<line x1="607.44" x2="607.44" y1="698.0" y2="708.5"/>
<line x1="615.81" x2="615.81" y1="698.0" y2="708.5"/>
<line x1="624.19" x2="624.19" y1="698.0" y2="708.5"/>
<line x1="632.56" x2="632.56" y1="698.0" y2="708.5"/>
<line x1="640.93" x2="640.93" y1="698.0" y2="708.5"/>
<line x1="649.30" x2="649.30" y1="698.0" y2="708.5"/>
<line x1="657.68" x2="657.68" y1="698.0" y2="708.5"/>
<line x1="666.05" x2="666.05" y1="698.0" y2="708.5"/>
<line x1="674.42" x2="674.42" y1="698.0" y2="708.5"/>
<line x1="682.79" x2="682.79" y1="698.0" y2="708.5"/>
<line x1="691.16" x2="691.16" y1="698.0" y2="708.5"/>
<line x1="699.54" x2="699.54" y1="698.0" y2="708.5"/>
<line x1="707.91" x2="707.91" y1="698.0" y2="708.5"/>
<line x1="716.28" x2="716.28" y1="698.0" y2="708.5"/>
<line x1="724.65" x2="724.65" y1="698.0" y2="708.5"/>
<line x1="733.03" x2="733.03" y1="698.0" y2="708.5"/>
<line x1="741.40" x2="741.40" y1="698.0" y2="708.5"/>
<line x1="749.77" x2="749.77" y1="698.0" y2="708.5"/>
<line x1="758.14" x2="758.14" y1="698.0" y2="708.5"/>
<line x1="766.51" x2="766.51" y1="698.0" y2="708.5"/>
<line x1="774.89" x2="774.89" y1="698.0" y2="708.5"/>
<line x1="783.26" x2="783.26" y1="698.0" y2="708.5"/>
<line x1="791.63" x2="791.63" y1="698.0" y2="708.5"/>
<line x1="800.00" x2="800.00" y1="698.0" y2="708.5"/>
<line x1="808.38" x2="808.38" y1="698.0" y2="708.5"/>
<line x1="816.75" x2="816.75" y1="698.0" y2="708.5"/>
<line x1="825.12" x2="825.12" y1="698.0" y2="708.5"/>
<line x1="833.49" x2="833.49" y1="698.0" y2="708.5"/>
<line x1="841.86" x2="841.86" y1="698.0" y2="708.5"/>
<line x1="850.24" x2="850.24" y1="698.0" y2="708.5"/>
<line x1="858.61" x2="858.61" y1="698.0" y2="708.5"/>
<line x1="866.98" x2="866.98" y1="698.0" y2="708.5"/>
<line x1="875.35" x2="875.35" y1="698.0" y2="708.5"/>
<line x1="883.73" x2="883.73" y1="698.0" y2="708.5"/>
<line x1="892.10" x2="892.10" y1="698.0" y2="708.5"/>
<line x1="900.47" x2="900.47" y1="698.0" y2="708.5"/>
<line x1="908.84" x2="908.84" y1="698.0" y2="708.5"/>
<line x1="917.21" x2="917.21" y1="698.0" y2="708.5"/>
<line x1="925.59" x2="925.59" y1="698.0" y2="708.5"/>
<line x1="933.96" x2="933.96" y1="698.0" y2="708.5"/>
<line x1="942.33" x2="942.33" y1="698.0" y2="708.5"/>
<line x1="950.70" x2="950.70" y1="698.0" y2="708.5"/>
<line x1="959.08" x2="959.08" y1="698.0" y2="708.5"/>
<line x1="967.45" x2="967.45" y1="698.0" y2="708.5"/>
<line x1="975.82" x2="975.82" y1="698.0" y2="708.5"/>
<line x1="984.19" x2="984.19" y1="698.0" y2="708.5"/>
<line x1="992.56" x2="992.56" y1="698.0" y2="708.5"/>
<line x1="1000.94" x2="1000.94" y1="698.0" y2="708.5"/>
<line x1="1009.31" x2="1009.31" y1="698.0" y2="708.5"/>
<line x1="1017.68" x2="1017.68" y1="698.0" y2="708.5"/>
<line x1="1026.05" x2="1026.05" y1="698.0" y2="708.5"/>
<line x1="1034.43" x2="1034.43" y1="698.0" y2="708.5"/>
<line x1="1042.80" x2="1042.80" y1="698.0" y2="708.5"/>
<line x1="1051.17" x2="1051.17" y1="698.0" y2="708.5"/>
<line x1="1059.54" x2="1059.54" y1="698.0" y2="708.5"/>
<line x1="1067.91" x2="1067.91" y1="698.0" y2="708.5"/>
<line x1="1076.29" x2="1076.29" y1="698.0" y2="708.5"/>
<line x1="1084.66" x2="1084.66" y1="698.0" y2="708.5"/>
<line x1="1093.03" x2="1093.03" y1="698.0" y2="708.5"/>
<line x1="1101.40" x2="1101.40" y1="698.0" y2="708.5"/>
<line x1="1109.78" x2="1109.78" y1="698.0" y2="708.5"/>
<line x1="1118.15" x2="1118.15" y1="698.0" y2="708.5"/>
</g>
<text transform="translate(162.04,717.6) rotate(-90)" text-anchor="end" font-size="18.33">1985</text>
<text transform="translate(203.90,717.6) rotate(-90)" text-anchor="end" font-size="18.33">1990</text>
<text transform="translate(245.76,717.6) rotate(-90)" text-anchor="end" font-size="18.33">1995</text>
<text transform="translate(287.62,717.6) rotate(-90)" text-anchor="end" font-size="18.33">2000</text>
<text transform="translate(329.49,717.6) rotate(-90)" text-anchor="end" font-size="18.33">2005</text>
<text transform="translate(371.35,717.6) rotate(-90)" text-anchor="end" font-size="18.33">2010</text>
<text transform="translate(413.21,717.6) rotate(-90)" text-anchor="end" font-size="18.33">2015</text>
<text transform="translate(455.07,717.6) rotate(-90)" text-anchor="end" font-size="18.33">2020</text>
<text transform="translate(496.93,717.6) rotate(-90)" text-anchor="end" font-size="18.33">2025</text>
<text transform="translate(538.79,717.6) rotate(-90)" text-anchor="end" font-size="18.33">2030</text>
<text transform="translate(580.65,717.6) rotate(-90)" text-anchor="end" font-size="18.33">2035</text>
<text transform="translate(622.51,717.6) rotate(-90)" text-anchor="end" font-size="18.33">2040</text>
<text transform="translate(664.38,717.6) rotate(-90)" text-anchor="end" font-size="18.33">2045</text>
<text transform="translate(706.24,717.6) rotate(-90)" text-anchor="end" font-size="18.33">2050</text>
<text transform="translate(748.10,717.6) rotate(-90)" text-anchor="end" font-size="18.33">2055</text>
<text transform="translate(789.96,717.6) rotate(-90)" text-anchor="end" font-size="18.33">2060</text>
<text transform="translate(831.82,717.6) rotate(-90)" text-anchor="end" font-size="18.33">2065</text>
<text transform="translate(873.68,717.6) rotate(-90)" text-anchor="end" font-size="18.33">2070</text>
<text transform="translate(915.54,717.6) rotate(-90)" text-anchor="end" font-size="18.33">2075</text>
<text transform="translate(957.40,717.6) rotate(-90)" text-anchor="end" font-size="18.33">2080</text>
<text transform="translate(999.26,717.6) rotate(-90)" text-anchor="end" font-size="18.33">2085</text>
<text transform="translate(1041.13,717.6) rotate(-90)" text-anchor="end" font-size="18.33">2090</text>
<text transform="translate(1082.99,717.6) rotate(-90)" text-anchor="end" font-size="18.33">2095</text>
<text transform="translate(1124.85,717.6) rotate(-90)" text-anchor="end" font-size="18.33">2100</text>
<g stroke="#000" stroke-width="2.1">
<line x1="71.2" x2="82.0" y1="649.26" y2="649.26"/>
<line x1="71.2" x2="82.0" y1="519.63" y2="519.63"/>
<line x1="71.2" x2="82.0" y1="390.00" y2="390.00"/>
<line x1="71.2" x2="82.0" y1="260.37" y2="260.37"/>
<line x1="71.2" x2="82.0" y1="130.74" y2="130.74"/>
</g>
<text transform="translate(57.9,649.16) rotate(-90)" text-anchor="middle" font-size="16.67" stroke="#000" stroke-width="0.75" stroke-linejoin="round">-40</text>
<text transform="translate(57.9,519.53) rotate(-90)" text-anchor="middle" font-size="16.67" stroke="#000" stroke-width="0.75" stroke-linejoin="round">-20</text>
<text transform="translate(57.9,389.90) rotate(-90)" text-anchor="middle" font-size="16.67" stroke="#000" stroke-width="0.75" stroke-linejoin="round">0</text>
<text transform="translate(57.9,260.27) rotate(-90)" text-anchor="middle" font-size="16.67" stroke="#000" stroke-width="0.75" stroke-linejoin="round">20</text>
<text transform="translate(57.9,130.64) rotate(-90)" text-anchor="middle" font-size="16.67" stroke="#000" stroke-width="0.75" stroke-linejoin="round">40</text>
<text x="620.3" y="50.8" text-anchor="middle" font-size="29.88" font-weight="bold">Yearly dry spells lenght evolution : REU period AN</text>
<text x="620" y="793" text-anchor="middle" font-size="20.1">Smoothed 10 years moving average</text>
<text transform="translate(18.3,389.6) rotate(-90)" text-anchor="middle" font-size="21.6">anomaly in number of days (ref period 1981-2010)</text>
</svg></body></html>
